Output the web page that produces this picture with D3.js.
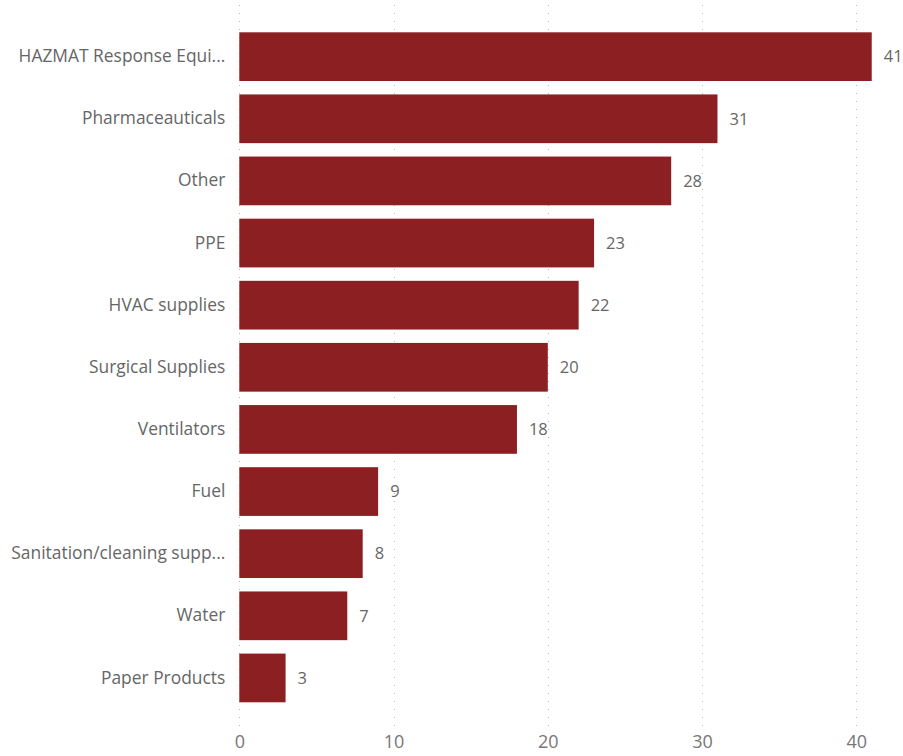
<!DOCTYPE html>
<html>
<head>
<meta charset="utf-8">
<script src="https://cdn.jsdelivr.net/npm/d3@7"></script>
<style>
  body { margin: 0; background: #fff; }
  svg text { font-family: "Open Sans", "Noto Sans", sans-serif; }
</style>
</head>
<body>
<svg></svg>
<script>
let categories = [
  "HAZMAT Response Equi...",
  "Pharmaceauticals",
  "Other",
  "PPE",
  "HVAC supplies",
  "Surgical Supplies",
  "Ventilators",
  "Fuel",
  "Sanitation/cleaning supp...",
  "Water",
  "Paper Products"
];
let values = [41, 31, 28, 23, 22, 20, 18, 9, 8, 7, 3];
let xTicks = [0, 10, 20, 30, 40];

let w = 903;
let h = 756;
let barColor = "#8b1f22";

let svg = d3.select("svg").attr("width", w).attr("height", h);

let xScale = d3.scaleLinear().domain([0, 40]).range([239.3, 856.3]);
let yScale = d3
  .scaleBand()
  .domain(categories)
  .range([25.6, 709.0])
  .paddingInner(0.216)
  .paddingOuter(0.108);

// dotted gridlines
svg
  .append("g")
  .selectAll("line")
  .data(xTicks)
  .enter()
  .append("line")
  .attr("x1", (d) => Math.round(xScale(d)) + 0.5)
  .attr("x2", (d) => Math.round(xScale(d)) + 0.5)
  .attr("y1", 5)
  .attr("y2", 729)
  .attr("stroke", "#b8b8b8")
  .attr("stroke-width", 1)
  .attr("stroke-dasharray", "1,7");

// x axis
let xAxis = d3.axisBottom(xScale).tickValues(xTicks).tickSize(0).tickPadding(0);
let gx = svg.append("g").attr("transform", "translate(0, 735)").call(xAxis);
gx.select(".domain").remove();
gx.selectAll("text")
  .attr("dy", "0.71em")
  .attr("font-size", 18)
  .attr("fill", "#777");

// bars
svg
  .append("g")
  .selectAll("rect")
  .data(values)
  .enter()
  .append("rect")
  .attr("x", xScale(0))
  .attr("y", (d, i) => yScale(categories[i]))
  .attr("width", (d) => xScale(d) - xScale(0))
  .attr("height", yScale.bandwidth())
  .attr("fill", barColor);

// value labels
svg
  .append("g")
  .selectAll("text")
  .data(values)
  .enter()
  .append("text")
  .attr("x", (d) => xScale(d) + 12)
  .attr("y", (d, i) => yScale(categories[i]) + yScale.bandwidth() / 2)
  .attr("dy", "0.35em")
  .attr("font-size", 16.5)
  .attr("fill", "#666")
  .text((d) => d);

// y axis labels
let yAxis = d3.axisLeft(yScale).tickSize(0).tickPadding(14);
let gy = svg.append("g").attr("transform", `translate(${xScale(0)}, 0)`).call(yAxis);
gy.select(".domain").remove();
gy.selectAll("text")
  .attr("font-size", 17.4)
  .attr("fill", "#666");
</script>
</body>
</html>
